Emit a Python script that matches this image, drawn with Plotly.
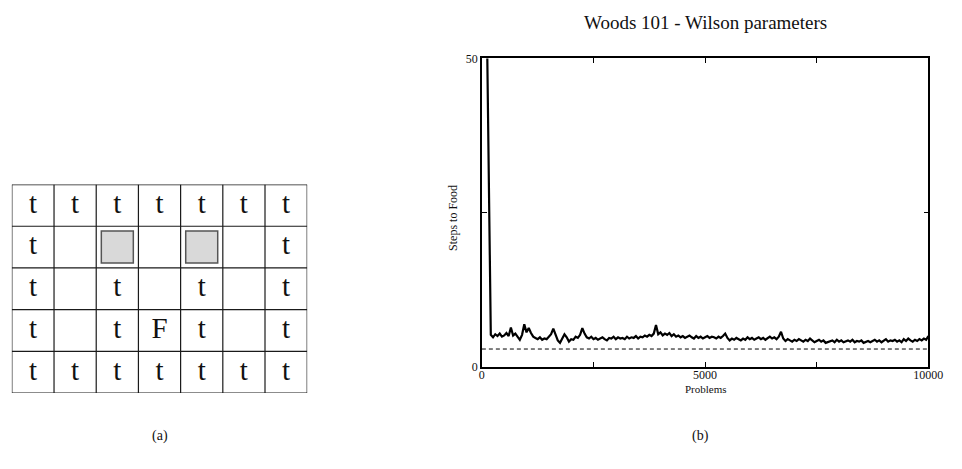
import plotly.graph_objects as go

# ---- (a) Woods101 maze layout: t = tree, F = food, O = aliased cell marker, . = empty
MAZE_ROWS = [
    "ttttttt",
    "t.O.O.t",
    "t.t.t.t",
    "t.tFt.t",
    "ttttttt",
]

# ---- (b) learning curve: steps to food vs. problems
PROBLEMS_EARLY = [0, 50, 100, 150]
STEPS_EARLY = [120, 90, 60, 38]

STEP_INTERVAL = 50
STEPS_SMOOTH = [
    5.2, 4.8, 5.3, 5.0, 5.4, 4.9, 5.1, 5.5, 5.0, 6.4,
    5.1, 5.4, 4.9, 4.4, 5.2, 6.9, 5.6, 6.3, 5.5, 4.9,
    4.7, 4.5, 4.8, 4.4, 4.6, 4.5, 4.9, 5.3, 6.2, 5.2,
    4.3, 3.9, 4.6, 5.3, 4.8, 4.1, 4.5, 4.4, 4.9, 4.7,
    5.2, 6.3, 5.4, 4.8, 4.6, 4.9, 4.5, 4.7, 4.4, 4.6,
    4.8, 4.5, 4.3, 4.7, 4.6, 4.9, 4.5, 4.8, 4.6, 4.7,
    4.5, 4.9, 4.6, 4.8, 4.7, 5.0, 4.6, 4.9, 4.8, 5.1,
    4.9, 5.2, 5.0, 5.4, 6.8, 5.3, 5.6, 5.1, 5.4, 5.2,
    5.5, 5.0, 5.3, 4.9, 5.1, 4.8, 5.0, 4.7, 4.9, 5.1,
    4.8, 4.6, 5.0, 4.7, 4.9, 4.6, 4.8, 5.0, 4.7, 4.9,
    4.8, 4.6, 4.9, 4.7, 5.0, 5.4, 4.7, 4.3, 4.6, 4.4,
    4.7, 4.5, 4.3, 4.6, 4.4, 4.8, 4.5, 4.7, 4.4, 4.6,
    4.8, 4.5, 4.7, 4.4, 4.6, 4.9, 4.6, 4.8, 4.5, 4.9,
    5.7, 4.6, 4.2, 4.5, 4.3, 4.1, 4.4, 4.2, 4.5, 4.3,
    4.1, 4.4, 4.2, 4.6, 4.3, 4.0, 4.2, 4.4, 4.1, 4.3,
    3.9, 4.0, 4.2, 4.3, 4.0, 4.4, 4.1, 4.3, 4.0, 4.2,
    4.3, 4.1, 4.4, 4.0, 4.2, 4.1, 4.3, 3.9, 4.1, 4.2,
    4.0, 4.2, 4.4, 4.1, 4.3, 4.0, 4.2, 4.5, 4.1, 4.3,
    4.2, 4.4, 4.1, 4.3, 4.0, 4.5, 4.2, 4.6, 4.3, 4.1,
    4.4, 4.2, 4.5, 4.3, 4.6, 4.4,
    5.0,
]
PROBLEMS_SMOOTH = [200 + STEP_INTERVAL * i for i in range(len(STEPS_SMOOTH))]

OPTIMAL_STEPS = 2.9
X_TICKS = [0, 2500, 5000, 7500, 10000]
X_TICK_TEXT = ["0", "", "5000", "", "10000"]
Y_TICKS = [0, 25, 50]
Y_TICK_TEXT = ["0", "", "50"]

SERIF = "Liberation Serif, Times New Roman, serif"
W, H = 962, 469

fig = go.Figure()

# ---- maze panel
n_rows, n_cols = len(MAZE_ROWS), len(MAZE_ROWS[0])
txt_x, txt_y, txt_s = [], [], []
box_x, box_y = [], []
for r, row in enumerate(MAZE_ROWS):
    for c, ch in enumerate(row):
        cx, cy = c + 0.5, r + 0.5
        if ch in "tF":
            txt_x.append(cx)
            txt_y.append(cy)
            txt_s.append(ch)
        elif ch == "O":
            box_x.append(cx)
            box_y.append(cy)

fig.add_trace(go.Scatter(
    x=box_x, y=box_y, xaxis="x2", yaxis="y2", mode="markers",
    marker=dict(symbol="square", size=32, color="#d9d9d9",
                line=dict(color="#555555", width=1.5)),
    hoverinfo="skip", showlegend=False,
))
fig.add_trace(go.Scatter(
    x=txt_x, y=txt_y, xaxis="x2", yaxis="y2", mode="text", text=txt_s,
    textposition="middle center",
    textfont=dict(family=SERIF, size=29, color="#111111"),
    hoverinfo="skip", showlegend=False,
))

shapes = []
for c in range(n_cols + 1):
    shapes.append(dict(type="line", xref="x2", yref="y2", x0=c, x1=c, y0=0, y1=n_rows,
                       line=dict(color="#1a1a1a", width=1.2)))
for r in range(n_rows + 1):
    shapes.append(dict(type="line", xref="x2", yref="y2", x0=0, x1=n_cols, y0=r, y1=r,
                       line=dict(color="#1a1a1a", width=1.2)))

# ---- learning curve panel
fig.add_trace(go.Scatter(
    x=PROBLEMS_EARLY + PROBLEMS_SMOOTH, y=STEPS_EARLY + STEPS_SMOOTH,
    mode="lines", line=dict(color="#000000", width=2.2),
    hoverinfo="skip", showlegend=False,
))
fig.add_trace(go.Scatter(
    x=[X_TICKS[0], X_TICKS[-1]], y=[OPTIMAL_STEPS, OPTIMAL_STEPS],
    mode="lines", line=dict(color="#000000", width=1, dash="4px,3px"),
    hoverinfo="skip", showlegend=False,
))

axis_font = dict(family=SERIF, size=12, color="#111111")

fig.update_layout(
    width=W, height=H,
    margin=dict(l=0, r=0, t=0, b=0),
    paper_bgcolor="white", plot_bgcolor="white",
    shapes=shapes,
    title=dict(text="Woods 101 - Wilson parameters", x=716 / W, xanchor="center",
               y=1 - 16 / H, yanchor="middle", xref="paper", yref="paper",
               font=dict(family=SERIF, size=19, color="#111111")),
    xaxis=dict(
        domain=[488 / W, 943 / W], range=[0, 10000],
        tickvals=X_TICKS, ticktext=X_TICK_TEXT, ticks="inside", ticklen=5,
        tickcolor="#000000", tickwidth=1, ticklabelstandoff=-4,
        showline=True, linecolor="#000000", linewidth=1.5, mirror="ticks",
        showgrid=False, zeroline=False, tickfont=axis_font,
    ),
    yaxis=dict(
        domain=[1 - 371 / H, 1 - 53 / H], range=[0, 50],
        tickvals=Y_TICKS, ticktext=Y_TICK_TEXT, ticks="inside", ticklen=5,
        tickcolor="#000000", tickwidth=1,
        showline=True, linecolor="#000000", linewidth=1.5, mirror="ticks",
        showgrid=False, zeroline=False, tickfont=axis_font,
    ),
    xaxis2=dict(domain=[9 / W, 310 / W], range=[0, n_cols], visible=False, fixedrange=True),
    yaxis2=dict(domain=[1 - 398 / H, 1 - 183 / H], range=[n_rows, 0], visible=False,
                fixedrange=True),
    annotations=[
        dict(text="Problems", x=716 / W, y=1 - 394 / H, xref="paper", yref="paper",
             showarrow=False, xanchor="center", yanchor="middle",
             font=dict(family=SERIF, size=11, color="#111111")),
        dict(text="Steps to Food", x=458 / W, y=1 - 217 / H, xref="paper", yref="paper",
             showarrow=False, textangle=-90, xanchor="center", yanchor="middle",
             font=axis_font),
        dict(text="(a)", x=160 / W, y=1 - 442 / H, xref="paper", yref="paper",
             showarrow=False, xanchor="center", yanchor="middle",
             font=dict(family=SERIF, size=14, color="#111111")),
        dict(text="(b)", x=711 / W, y=1 - 442 / H, xref="paper", yref="paper",
             showarrow=False, xanchor="center", yanchor="middle",
             font=dict(family=SERIF, size=14, color="#111111")),
    ],
)

fig.write_html("out.html")
